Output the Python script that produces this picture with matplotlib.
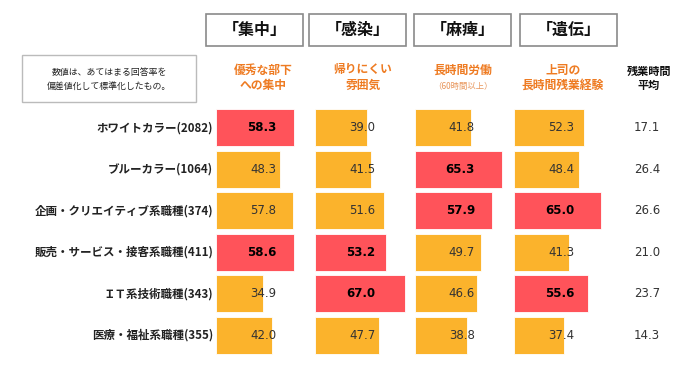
import matplotlib
matplotlib.use("Agg")
import matplotlib.pyplot as plt
from matplotlib.patches import Rectangle

plt.rcParams['font.family'] = ['Noto Sans CJK JP', 'DejaVu Sans']

categories = ["ホワイトカラー(2082)", "ブルーカラー(1064)", "企画・クリエイティブ系職種(374)",
              "販売・サービス・接客系職種(411)", "ＩＴ系技術職種(343)", "医療・福祉系職種(355)"]
headers = ["「集中」", "「感染」", "「麻痺」", "「遺伝」"]
subtitles = ["優秀な部下\nへの集中", "帰りにくい\n雰囲気", "長時間労働", "上司の\n長時間残業経験"]
concentration = [58.3, 48.3, 57.8, 58.6, 34.9, 42.0]
infection = [39.0, 41.5, 51.6, 53.2, 67.0, 47.7]
paralysis = [41.8, 65.3, 57.9, 49.7, 46.6, 38.8]
heredity = [52.3, 48.4, 65.0, 41.3, 55.6, 37.4]
overtime_avg = [17.1, 26.4, 26.6, 21.0, 23.7, 14.3]
highlight = [[0, 3], [3, 4], [1, 2], [2, 4]]
series = [concentration, infection, paralysis, heredity]

W, H = 684, 369
fig = plt.figure(figsize=(W / 100, H / 100), dpi=100)

ORANGE = "#FBB32C"
RED = "#FF535A"
SUB = "#EE7B22"

col_left = 216.0
col_w = 99.4
ax_top = 107.0
ax_bot = 356.0
xmax = 74.5

def fx(px):
    return px / W

def fy(py):
    return 1 - py / H

axes = []
for i, vals in enumerate(series):
    ax = fig.add_axes([fx(col_left + i * col_w), fy(ax_bot), fx(col_w), (ax_bot - ax_top) / H])
    ypos = list(range(len(vals)))
    colors = [RED if j in highlight[i] else ORANGE for j in ypos]
    ax.barh(ypos, vals, height=0.89, color=colors, edgecolor="white", linewidth=0.6)
    ax.set_xlim(0, xmax)
    ax.set_ylim(len(vals) - 0.5, -0.5)
    ax.axis("off")
    for j, v in enumerate(vals):
        hl = j in highlight[i]
        ax.text(45, j, f"{v:.1f}", ha="right", va="center",
                fontsize=8.5, fontweight="bold" if hl else "normal",
                color="black" if hl else "#333333", family="DejaVu Sans")
    axes.append(ax)

# row labels
for j, cat in enumerate(categories):
    axes[0].text(-2.0, j, cat, ha="right", va="center", fontsize=8.3,
                 fontweight="bold", color="#222222", clip_on=False)

# overtime averages
for j, v in enumerate(overtime_avg):
    yp = ax_top + (j + 0.5) * (ax_bot - ax_top) / len(overtime_avg)
    fig.text(fx(647), fy(yp), f"{v:.1f}", ha="center", va="center",
             fontsize=8.5, color="#333333", family="DejaVu Sans")

# header boxes
box_lefts = [206, 309, 414, 520]
for i, h in enumerate(headers):
    x0 = box_lefts[i]
    fig.patches.append(Rectangle((fx(x0), fy(46)), fx(97), (46 - 14) / H,
                                 transform=fig.transFigure, fill=False,
                                 edgecolor="#8a8a8a", linewidth=1.2))
    fig.text(fx(x0 + 48.5), fy(30), h, ha="center", va="center",
             fontsize=11.5, fontweight="bold", color="#111111")

# subtitles
sub_x = [263, 363, 463, 563]
for i, s in enumerate(subtitles):
    lines = s.split("\n")
    for k, line in enumerate(lines):
        fig.text(fx(sub_x[i]), fy(70 + 15 * k), line, ha="center", va="center",
                 fontsize=8.5, fontweight="bold", color=SUB)
fig.text(fx(463), fy(86), "（60時間以上）", ha="center", va="center",
         fontsize=6, color="#E8955A")

# overtime header
fig.text(fx(649), fy(71), "残業時間", ha="center", va="center", fontsize=8, fontweight="bold", color="#111111")
fig.text(fx(649), fy(86), "平均", ha="center", va="center", fontsize=8, fontweight="bold", color="#111111")

# note box
fig.patches.append(Rectangle((fx(22), fy(102)), fx(174), (102 - 55) / H,
                             transform=fig.transFigure, fill=False,
                             edgecolor="#bbbbbb", linewidth=1.0))
fig.text(fx(109), fy(72), "数値は、あてはまる回答率を", ha="center", va="center", fontsize=6.4, color="#222222")
fig.text(fx(109), fy(87), "偏差値化して標準化したもの。", ha="center", va="center", fontsize=6.4, color="#222222")

fig.savefig("out.png", dpi=100, facecolor="white")
